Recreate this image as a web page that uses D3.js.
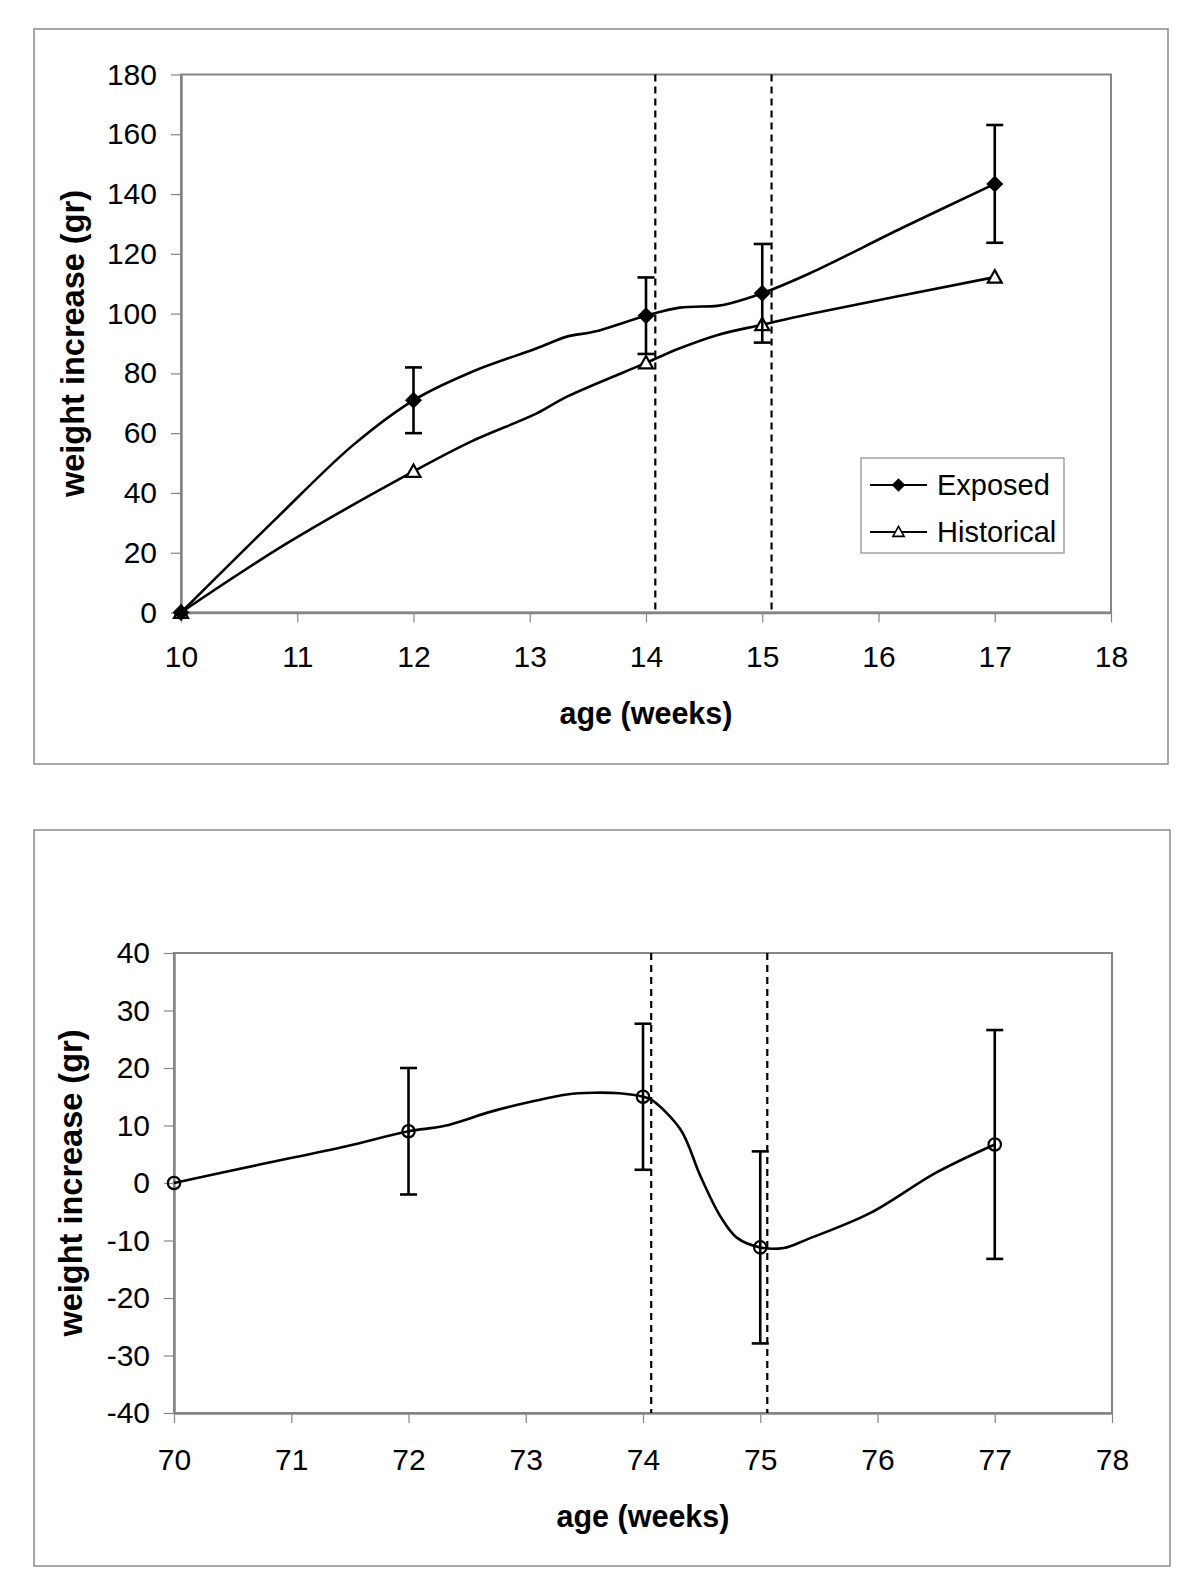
<!DOCTYPE html>
<html>
<head>
<meta charset="utf-8">
<script src="https://cdn.jsdelivr.net/npm/d3@7"></script>
<style>
  body { margin: 0; background: #fff; }
  svg { display: block; }
</style>
</head>
<body>
<script>

// ---- data ----
// top panel: young animals, markers at measured weeks
const topWeeks = [10, 12, 14, 15, 17];
const exposedMean = [0, 71, 99.3, 106.8, 143.4];
const exposedErr = [0, 11, 12.8, 16.5, 19.7];
const historicalMean = [0, 47.2, 83.5, 96.3, 112.2];

// the drawn (smoothed) traces pass through some extra points between markers
const exposedTraceWeeks = [10, 10.82, 11.48, 12, 12.49, 13.06, 13.32, 13.55, 14, 14.29, 14.61, 14.72, 15, 15.41, 16.21, 17];
const exposedTraceValues = [0, 31.5, 56, 71, 80.3, 88.4, 92.3, 93.9, 99.3, 102, 102.6, 103.4, 106.8, 113.5, 128.8, 143.4];
const historicalTraceWeeks = [10, 10.91, 12, 12.49, 13.06, 13.32, 14, 14.29, 14.61, 15, 15.41, 17];
const historicalTraceValues = [0, 23.1, 47.2, 57.1, 66.6, 72.2, 83.5, 88.4, 92.8, 96.3, 99.9, 112.2];

// bottom panel: old animals
const bottomWeeks = [70, 72, 74, 75, 77];
const bottomMean = [0, 9, 15, -11.2, 6.7];
const bottomErr = [0, 11, 12.7, 16.7, 19.9];
const bottomTraceWeeks = [70, 70.73, 71.47, 72, 72.3, 72.72, 73.06, 73.35, 73.58, 73.8, 74, 74.07, 74.32, 74.49, 74.66, 74.8, 75, 75.2, 75.4, 75.94, 76.5, 77];
const bottomTraceValues = [0, 3.2, 6.4, 9, 9.9, 12.5, 14.2, 15.4, 15.7, 15.6, 15, 14.5, 9.3, 1.2, -5.8, -9.5, -11.2, -11.3, -9.8, -5.2, 1.8, 6.7];

// exposure window (dashed lines)
const topExposure = [14.08, 15.08];
const bottomExposure = [74.07, 75.06];

// axes
const topXTicks = [10, 11, 12, 13, 14, 15, 16, 17, 18];
const topYTicks = [0, 20, 40, 60, 80, 100, 120, 140, 160, 180];
const bottomXTicks = [70, 71, 72, 73, 74, 75, 76, 77, 78];
const bottomYTicks = [-40, -30, -20, -10, 0, 10, 20, 30, 40];
const xTitle = "age (weeks)";
const yTitle = "weight increase (gr)";
const seriesNames = ["Exposed", "Historical"];

// ---- styles ----
const font = "'Liberation Sans', Arial, sans-serif";
const frame_gray = "#8c8c8c",
    axis_gray = "#858585";

const svg = d3.select("body").append("svg")
    .attr("width", 1200)
    .attr("height", 1591);

// marker shapes
const diamondPath = "M0,-8.5L8.5,0L0,8.5L-8.5,0Z";
const trianglePath = "M0,-7L7,5.5L-7,5.5Z";


function drawPanel(cfg) {

    // outer frame
    svg.append("rect")
        .attr("x", cfg.frame[0]).attr("y", cfg.frame[1])
        .attr("width", cfg.frame[2]).attr("height", cfg.frame[3])
        .attr("fill", "none")
        .attr("stroke", frame_gray)
        .attr("stroke-width", 1.5);

    const x = d3.scaleLinear()
        .domain(cfg.xDomain)
        .range([cfg.left, cfg.right]);
    const y = d3.scaleLinear()
        .domain(cfg.yDomain)
        .range([cfg.bottom, cfg.top]);

    const g = svg.append("g");

    // plot area border
    g.append("rect")
        .attr("x", cfg.left).attr("y", cfg.top)
        .attr("width", cfg.right - cfg.left).attr("height", cfg.bottom - cfg.top)
        .attr("fill", "none")
        .attr("stroke", axis_gray)
        .attr("stroke-width", 2);

    // axes (plain hyphen for negatives, like the original)
    const fmt = d => String(d);
    const yAxis = g.append("g")
        .attr("transform", `translate(${cfg.left},0)`)
        .call(d3.axisLeft(y).tickValues(cfg.yTicks).tickFormat(fmt).tickSize(10).tickPadding(14).tickSizeOuter(0));
    const xAxis = g.append("g")
        .attr("transform", `translate(0,${cfg.bottom})`)
        .call(d3.axisBottom(x).tickValues(cfg.xTicks).tickFormat(fmt).tickSize(10).tickPadding(cfg.xPad).tickSizeOuter(0));

    [yAxis, xAxis].forEach(a => {
        a.select(".domain").attr("stroke", axis_gray).attr("stroke-width", 2.5);
        a.selectAll(".tick line").attr("stroke", axis_gray).attr("stroke-width", 1.2);
        a.selectAll(".tick text")
            .attr("fill", "#000")
            .style("font-family", font)
            .style("font-size", "30px");
    });

    // axis titles
    g.append("text")
        .attr("x", (cfg.left + cfg.right) / 2)
        .attr("y", cfg.xTitleY)
        .attr("text-anchor", "middle")
        .style("font-family", font)
        .style("font-size", "30.5px")
        .style("font-weight", "bold")
        .text(xTitle);

    g.append("text")
        .attr("transform", `translate(${cfg.yTitleX},${(cfg.top + cfg.bottom) / 2}) rotate(-90)`)
        .attr("text-anchor", "middle")
        .style("font-family", font)
        .style("font-size", "32.5px")
        .style("font-weight", "bold")
        .text(yTitle);

    // exposure window
    g.selectAll(".exposure")
        .data(cfg.exposure)
        .enter().append("line")
        .attr("class", "exposure")
        .attr("x1", d => x(d)).attr("x2", d => x(d))
        .attr("y1", cfg.top).attr("y2", cfg.bottom)
        .attr("stroke", "#000")
        .attr("stroke-width", 2.2)
        .attr("stroke-dasharray", "7,5");

    return {g: g, x: x, y: y};
}


function drawTrace(p, weeks, values) {
    const line = d3.line()
        .x(d => p.x(d[0]))
        .y(d => p.y(d[1]))
        .curve(d3.curveCatmullRom.alpha(0.5));
    p.g.append("path")
        .datum(d3.zip(weeks, values))
        .attr("d", line)
        .attr("fill", "none")
        .attr("stroke", "#000")
        .attr("stroke-width", 2.6);
}

function drawErrorBars(p, weeks, means, errs) {
    const data = d3.zip(weeks, means, errs).filter(d => d[2] > 0);
    const cap = 8.5;
    const eb = p.g.append("g").attr("stroke", "#000").attr("stroke-width", 2.6);
    eb.selectAll(".stem").data(data).enter().append("line")
        .attr("x1", d => p.x(d[0])).attr("x2", d => p.x(d[0]))
        .attr("y1", d => p.y(d[1] - d[2])).attr("y2", d => p.y(d[1] + d[2]));
    eb.selectAll(".capTop").data(data).enter().append("line")
        .attr("x1", d => p.x(d[0]) - cap).attr("x2", d => p.x(d[0]) + cap)
        .attr("y1", d => p.y(d[1] + d[2])).attr("y2", d => p.y(d[1] + d[2]));
    eb.selectAll(".capBot").data(data).enter().append("line")
        .attr("x1", d => p.x(d[0]) - cap).attr("x2", d => p.x(d[0]) + cap)
        .attr("y1", d => p.y(d[1] - d[2])).attr("y2", d => p.y(d[1] - d[2]));
}


// ---- top panel ----
const topPanel = drawPanel({
    frame: [34, 29, 1134, 735],
    left: 181, right: 1111, top: 74.5, bottom: 612.5,
    xDomain: [10, 18], yDomain: [0, 180],
    xTicks: topXTicks, yTicks: topYTicks,
    xPad: 23, xTitleY: 724, yTitleX: 84,
    exposure: topExposure
});

drawTrace(topPanel, historicalTraceWeeks, historicalTraceValues);
topPanel.g.selectAll(".hist").data(d3.zip(topWeeks, historicalMean)).enter().append("path")
    .attr("transform", d => `translate(${topPanel.x(d[0])},${topPanel.y(d[1])})`)
    .attr("d", trianglePath)
    .attr("fill", "#fff")
    .attr("stroke", "#000")
    .attr("stroke-width", 2.2);

drawErrorBars(topPanel, topWeeks, exposedMean, exposedErr);
drawTrace(topPanel, exposedTraceWeeks, exposedTraceValues);
topPanel.g.selectAll(".exp").data(d3.zip(topWeeks, exposedMean)).enter().append("path")
    .attr("transform", d => `translate(${topPanel.x(d[0])},${topPanel.y(d[1])})`)
    .attr("d", diamondPath)
    .attr("fill", "#000");

// legend
const legend = topPanel.g.append("g").attr("transform", "translate(861,458)");
legend.append("rect")
    .attr("width", 203).attr("height", 95)
    .attr("fill", "#fff")
    .attr("stroke", frame_gray)
    .attr("stroke-width", 1.2);

seriesNames.forEach((name, i) => {
    const row = legend.append("g").attr("transform", `translate(0,${27 + i * 47})`);
    row.append("line")
        .attr("x1", 9).attr("x2", 66)
        .attr("stroke", "#000").attr("stroke-width", 2.2);
    row.append("path")
        .attr("d", i === 0 ? diamondPath : trianglePath)
        .attr("fill", i === 0 ? "#000" : "#fff")
        .attr("stroke", "#000")
        .attr("stroke-width", i === 0 ? 0 : 2)
        .attr("transform", i === 0 ? "translate(37.5,0) scale(0.8)" : "translate(37.5,0) scale(0.8)");
    row.append("text")
        .attr("x", 76).attr("dy", "0.35em")
        .style("font-family", font)
        .style("font-size", "29px")
        .text(name);
});


// ---- bottom panel ----
const botPanel = drawPanel({
    frame: [34, 830, 1136, 736],
    left: 174, right: 1112, top: 953, bottom: 1413,
    xDomain: [70, 78], yDomain: [-40, 40],
    xTicks: bottomXTicks, yTicks: bottomYTicks,
    xPad: 26, xTitleY: 1527, yTitleX: 82,
    exposure: bottomExposure
});

drawTrace(botPanel, bottomTraceWeeks, bottomTraceValues);
drawErrorBars(botPanel, bottomWeeks, bottomMean, bottomErr);
botPanel.g.selectAll(".pt").data(d3.zip(bottomWeeks, bottomMean)).enter().append("circle")
    .attr("cx", d => botPanel.x(d[0]))
    .attr("cy", d => botPanel.y(d[1]))
    .attr("r", 6.2)
    .attr("fill", "none")
    .attr("stroke", "#000")
    .attr("stroke-width", 2.2);

</script>
</body>
</html>
